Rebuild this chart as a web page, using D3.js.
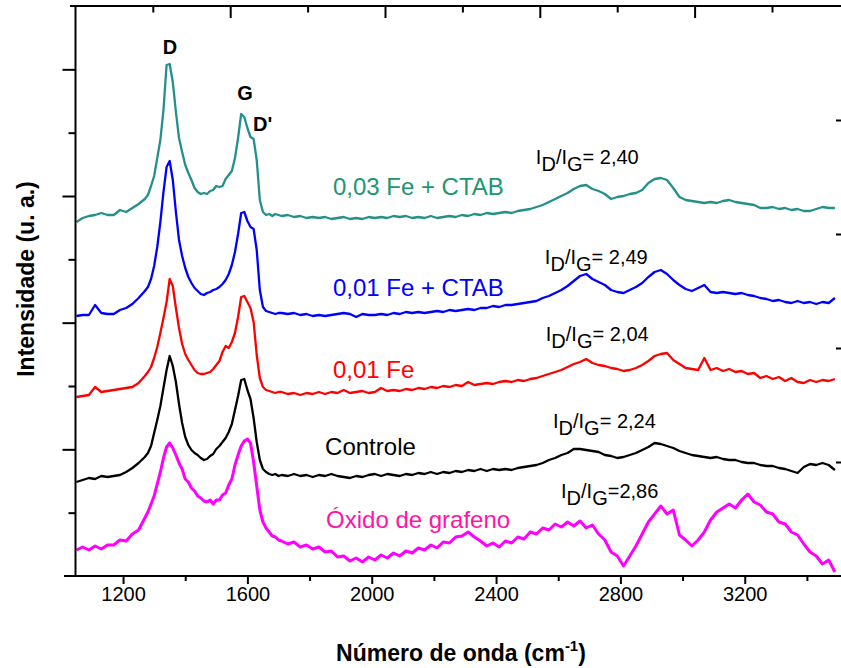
<!DOCTYPE html>
<html><head><meta charset="utf-8">
<script src="https://cdn.jsdelivr.net/npm/d3@7"></script>
<style>
body{margin:0;background:#fff}
svg{display:block}
text{font-family:"Liberation Sans",Arial,Helvetica,sans-serif}
</style>
</head><body>
<svg id="chart" width="841" height="668"></svg>
<script>
// ---------------- DATA ----------------
const wavenumbers = [
1050,1070,1090,1110,1130,1150,1170,1190,1210,1230,1250,1270,
1280,1290,1300,1310,1320,1330,1340,1350,1360,1370,1380,1390,1400,1410,1420,1430,1440,1450,
1460,1470,1480,1490,1500,1510,1520,1530,1540,1550,1560,1570,1580,1590,1600,1610,1620,1630,
1640,1650,1660,1670,1680,1690,1700,
1710,1730,1750,1770,1790,1810,1830,1850,1870,1890,1910,1930,1950,1970,1990,2010,2030,2050,
2070,2090,2110,2130,2150,2170,2190,2210,2230,2250,2270,2290,2310,2330,2350,2370,2390,2410,
2430,2450,2470,2490,2510,2530,2550,2570,2590,2610,2630,2650,2670,2690,2710,2730,2750,2770,
2790,2810,2830,2850,2870,2890,2910,2930,2950,2970,2990,3010,3030,3050,3070,3090,3110,3130,
3150,3170,3190,3210,3230,3250,3270,3290,3310,3330,3350,3370,3390,3410,3430,3450,3470,3490
];

const fe003Ctab = [
354,358,360,361,363,361,361,366,364,368,372,377,
381,390,400,418,436,466,511,512,494,464,438,424,411,403,396,388,384,382,383,382,385,386,390,389,390,397,401,405,418,438,462,459,448,439,437,416,376,364,361,362,360,362,361,
360,361,359,360,358,359,358,359,357,358,359,357,358,357,359,358,359,358,360,359,
360,358,359,358,360,358,359,360,359,361,360,362,361,363,362,363,364,363,365,366,
367,369,371,374,377,380,383,387,390,391,387,385,382,377,379,380,382,383,386,393,
397,398,396,388,379,376,375,374,373,374,373,375,376,374,373,372,371,368,368,369,
367,368,366,367,365,365,367,369,368,368
];

const fe001Ctab = [
260,261,261,271,263,262,262,266,268,272,278,285,
289,297,310,329,354,384,409,415,396,364,336,320,308,299,293,288,285,282,281,283,284,286,287,289,292,296,302,311,324,342,363,364,355,349,347,326,286,269,265,264,263,262,263,
263,262,263,261,262,260,261,260,261,262,263,262,259,262,261,261,262,261,263,262,
264,263,264,263,264,265,264,266,265,266,267,266,268,268,270,269,271,271,272,273,
274,275,278,280,283,286,290,295,300,302,297,294,291,286,284,283,286,289,293,299,
304,306,302,296,291,287,285,288,291,284,283,284,283,282,283,281,280,278,277,275,
276,274,273,275,273,274,272,274,273,278
];

const fe001 = [
179,180,181,189,184,185,186,187,188,189,193,200,
204,209,218,229,243,258,274,297,290,268,248,232,222,216,211,206,203,202,202,203,204,207,211,215,224,230,228,234,243,259,279,280,274,268,254,221,198,189,186,185,184,183,184,
184,182,183,181,183,182,184,182,184,183,186,183,184,185,183,184,188,185,186,185,
187,186,188,187,189,188,190,189,191,190,194,191,192,193,192,194,195,194,196,195,
197,198,200,202,204,206,209,212,214,217,213,211,210,208,207,205,206,208,211,215,
220,222,223,216,212,208,207,206,218,206,208,205,207,204,205,202,203,198,200,197,
199,195,198,194,193,196,194,196,195,197
];

const controle = [
94,96,98,97,100,99,100,101,104,108,113,119,
123,130,143,156,170,188,206,220,210,194,172,153,139,131,126,123,121,118,116,117,120,122,127,130,134,138,144,152,166,180,196,197,186,177,158,134,116,107,104,102,101,102,100,
101,100,102,100,101,99,101,100,102,100,99,98,100,99,101,102,100,102,101,100,
102,101,103,102,104,102,104,103,105,104,106,105,107,105,107,106,107,106,108,109,
110,111,113,116,118,121,123,127,127,126,125,124,121,120,118,119,121,123,126,129,
133,132,130,128,125,123,121,120,119,118,119,117,116,116,114,113,113,111,110,110,
108,107,105,103,109,112,111,113,111,106
];

const oxidoGrafeno = [
26,29,26,30,27,31,31,36,35,42,46,58,
64,72,80,92,104,118,129,133,128,121,113,107,97,94,88,85,80,78,75,74,76,72,76,76,81,83,91,97,111,121,130,135,137,133,114,90,66,54,48,44,40,39,36,
35,32,34,29,31,27,29,24,25,19,20,15,18,14,19,16,21,18,23,20,
25,23,28,26,31,28,34,33,39,40,44,39,35,30,33,29,35,33,39,37,
44,42,48,46,52,49,54,50,55,48,51,42,36,24,20,10,20,30,42,54,
62,70,62,66,41,36,30,36,44,56,64,68,72,68,76,82,74,71,64,62,
54,52,44,41,32,24,20,12,16,4
];

const seriesNames = ["0,03 Fe + CTAB","0,01 Fe + CTAB","0,01 Fe","Controle","Óxido de grafeno"];
const seriesValues = [fe003Ctab, fe001Ctab, fe001, controle, oxidoGrafeno];
const idIgRatios = ["= 2,40","= 2,49","= 2,04","= 2,24","=2,86"];
const peakNames = ["D","G","D'"];

const xMajorTicks = [1200,1600,2000,2400,2800,3200];
const xMinorTicks = [1400,1800,2200,2600,3000,3400];

// ---------------- LAYOUT / STYLE ----------------
const lineColors  = ["#23908b","#0000ff","#ff0000","#000000","#ff00ff"];
const labelColors = ["#20966e","#0000ff","#ff0000","#000000","#ff14a5"];
const lineWidths  = [2.3,2.3,2.3,2.3,3];
// label anchors in data units (wavenumber, intensity)
const labelAnchors = [[1875,381],[1875,280],[1875,198],[1850,121],[1853,48]];
const ratioAnchors = [[2528,412],[2557,312],[2560,235],[2583,148],[2609,78]];
const peakAnchors  = [[1351,522,"middle"],[1592,476,"middle"],[1618,445,"start"]];

const svg = d3.select("#chart");
const X0 = 64, X1 = 838, YB = 576, YT = 6, XL = 75.5, XR = 841;

const x = d3.scaleLinear().domain([1010, 3500]).range([X0, X1]);
const y = d3.scaleLinear().domain([0, 570]).range([YB, YT]);
const leftTickScale = d3.scaleLinear().domain([0, 9]).range([YB, YT]);
const rightTickScale = d3.scaleLinear().domain([0, 5]).range([YB, YT]);
const topTickScale = d3.scaleLinear().domain([0, 5]).range([75.4, 75.4 + 154.8 * 5]);

// curves
const line = d3.line().x((d,i) => x(wavenumbers[i])).y(d => y(d));
seriesValues.forEach((vals, k) => {
  svg.append("path")
    .attr("d", line(vals))
    .attr("fill", "none")
    .attr("stroke", lineColors[k])
    .attr("stroke-width", lineWidths[k])
    .attr("stroke-linejoin", "round");
});

// axes lines
const axisG = svg.append("g").attr("stroke", "#000").attr("stroke-width", 2).attr("fill", "none");
axisG.append("line").attr("x1", X0).attr("x2", XR).attr("y1", YB).attr("y2", YB);
axisG.append("line").attr("x1", XL).attr("x2", XL).attr("y1", YT).attr("y2", YB);
axisG.append("line").attr("x1", 70).attr("x2", XR).attr("y1", YT).attr("y2", YT);

function styleAxis(g){
  g.select(".domain").remove();
  g.selectAll("line").attr("stroke", "#000").attr("stroke-width", 2);
}

// bottom axis
svg.append("g").attr("transform", `translate(0,${YB})`)
  .call(d3.axisBottom(x).tickValues(xMajorTicks).tickSize(8).tickPadding(3).tickFormat(d3.format("d")))
  .call(styleAxis)
  .call(g => g.selectAll("text").attr("font-size", 20).attr("fill", "#000")
      .attr("font-family", "'Liberation Sans',Arial,sans-serif"));
svg.append("g").attr("transform", `translate(0,${YB})`)
  .call(d3.axisBottom(x).tickValues(xMinorTicks).tickSize(5).tickFormat(""))
  .call(styleAxis);

// top axis (ticks inward)
svg.append("g").attr("transform", `translate(0,${YT})`)
  .call(d3.axisBottom(topTickScale).tickValues([1,2,3,4]).tickSize(12).tickFormat(""))
  .call(styleAxis);
svg.append("g").attr("transform", `translate(0,${YT})`)
  .call(d3.axisBottom(topTickScale).tickValues([0.5,1.5,2.5,3.5,4.5]).tickSize(6.5).tickFormat(""))
  .call(styleAxis);

// left axis (ticks outward)
svg.append("g").attr("transform", `translate(${XL},0)`)
  .call(d3.axisLeft(leftTickScale).tickValues([2,4,6,8]).tickSize(13).tickFormat(""))
  .call(styleAxis);
svg.append("g").attr("transform", `translate(${XL},0)`)
  .call(d3.axisLeft(leftTickScale).tickValues([1,3,5,7]).tickSize(7).tickFormat(""))
  .call(styleAxis);

// right axis (ticks inward)
svg.append("g").attr("transform", `translate(${XR},0)`)
  .call(d3.axisLeft(rightTickScale).tickValues([1,2,3,4]).tickSize(5).tickFormat(""))
  .call(styleAxis);

// axis titles
svg.append("text")
  .attr("transform", "translate(34,279) rotate(-90)")
  .attr("text-anchor", "middle")
  .attr("font-size", 23).attr("font-weight", "bold")
  .text("Intensidade (u. a.)");

const xt = svg.append("text")
  .attr("x", 461).attr("y", 661)
  .attr("text-anchor", "middle")
  .attr("font-size", 23).attr("font-weight", "bold");
xt.append("tspan").text("Número de onda (cm");
xt.append("tspan").attr("font-size", 15).attr("dy", -10).text("-1");
xt.append("tspan").attr("dy", 10).text(")");

// series labels
seriesNames.forEach((name, k) => {
  svg.append("text")
    .attr("x", x(labelAnchors[k][0])).attr("y", y(labelAnchors[k][1]))
    .attr("font-size", 24).attr("fill", labelColors[k])
    .text(name);
});

// ID/IG annotations
idIgRatios.forEach((r, k) => {
  const t = svg.append("text")
    .attr("x", x(ratioAnchors[k][0])).attr("y", y(ratioAnchors[k][1]))
    .attr("font-size", 20).attr("fill", "#000");
  t.append("tspan").text("I");
  t.append("tspan").attr("dy", 7).text("D");
  t.append("tspan").attr("dy", -7).text("/I");
  t.append("tspan").attr("dy", 7).text("G");
  t.append("tspan").attr("dy", -7).text(r);
});

// peak labels
peakNames.forEach((p, k) => {
  svg.append("text")
    .attr("x", x(peakAnchors[k][0])).attr("y", y(peakAnchors[k][1]))
    .attr("text-anchor", peakAnchors[k][2])
    .attr("font-size", 20).attr("font-weight", "bold")
    .text(p);
});
</script>
</body></html>
